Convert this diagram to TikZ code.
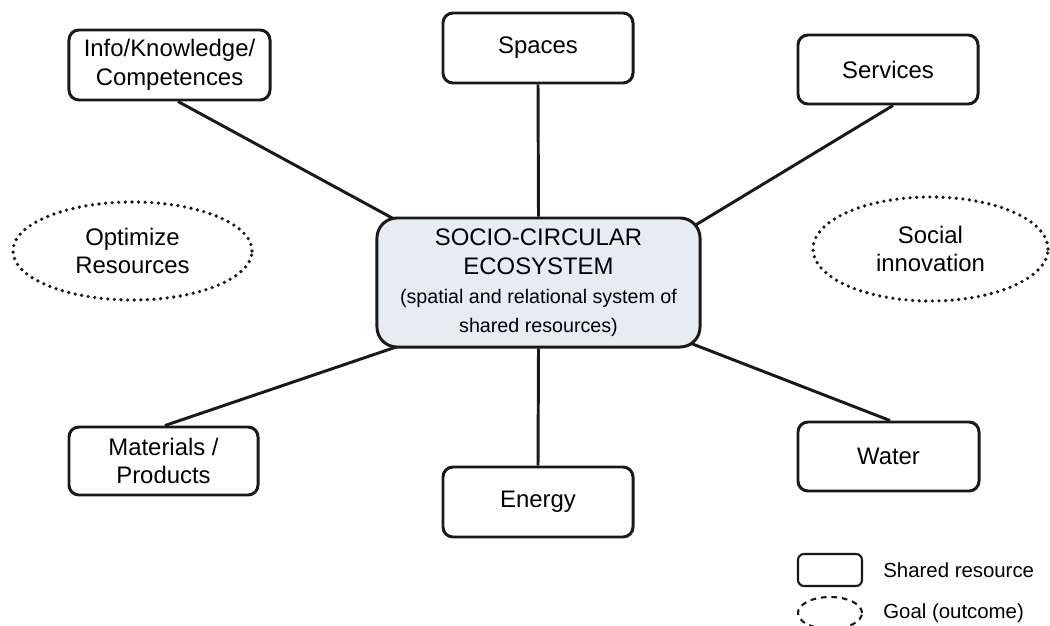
\documentclass[tikz,border=0pt]{standalone}
\usepackage{fontspec}
\setmainfont{Liberation Sans}
\usetikzlibrary{shapes.geometric,calc,positioning,backgrounds}
\definecolor{ecofill}{HTML}{E7EBF2}

\begin{document}
\begin{tikzpicture}[x=0.025cm,y=-0.025cm,
		resource/.style={draw=black!90,line width=2.1pt,rounded corners=0.25cm,fill=white,align=center,inner sep=0pt,font=\fontsize{17}{20.5}\selectfont},
		goal/.style={ellipse,draw=black!90,line width=2.6pt,dash pattern=on 0pt off 4.7pt,line cap=round,align=center,inner sep=0pt,font=\fontsize{17}{19.5}\selectfont},
		link/.style={draw=black!90,line width=2.1pt},
		legendtext/.style={inner sep=0pt,font=\fontsize{14.5}{17}\selectfont}]
		\newcommand{\subFont}{\fontsize{14}{17.7}\selectfont}
		
		\useasboundingbox (0,0) rectangle (1050,625);		% page
		
		% centre
		\node[resource, fill=ecofill, rounded corners=0.5cm, minimum width=8.075cm, minimum height=3.225cm] (eco) at (538.5,282.5)
			{SOCIO-CIRCULAR\\ECOSYSTEM\\\subFont(spatial and relational system of\\\subFont shared resources)};
		
		% shared resources
		\node[resource, minimum width=5.025cm, minimum height=1.75cm] (info) at (169.5,65) {Info/Knowledge/\\Competences};
		\node[resource, minimum width=4.75cm, minimum height=1.75cm] (spaces) at (538,48) {Spaces};
		\node[resource, minimum width=4.5cm, minimum height=1.725cm] (services) at (888,69.5) {Services};
		\node[resource, minimum width=4.725cm, minimum height=1.7cm] (materials) at (163.5,461) {Materials /\\Products};
		\node[resource, minimum width=4.75cm, minimum height=1.75cm] (energy) at (538,502) {Energy};
		\node[resource, minimum width=4.525cm, minimum height=1.725cm] (water) at (888.5,456.5) {Water};
		
		% goals
		\node[goal, minimum width=5.975cm, minimum height=2.45cm] (optimize) at (132.5,251) {Optimize\\Resources};
		\node[goal, minimum width=5.875cm, minimum height=2.6cm] (social) at (930.5,249) {Social\\innovation};
		
		% links
		\begin{pgfonlayer}{background}
			\draw[link] ($(info.south)+(8.5,0)$) -- ($(eco.north west)+(25,6)$);
			\draw[link] (spaces.south) -- (eco.north);
			\draw[link] ($(services.south)+(5,0)$) -- ($(eco.north east)+(-15,14)$);
			\draw[link] ($(materials.north)+(1.5,0)$) -- ($(eco.south west)+(28,-4)$);
			\draw[link] (eco.south) -- (energy.north);
			\draw[link] ($(water.north)+(1.5,0)$) -- ($(eco.south east)+(-18,-8)$);
		\end{pgfonlayer}
		
		% legend
		\node[draw=black!90, line width=1.5pt, rounded corners=0.15cm, minimum width=1.6cm, minimum height=0.8cm] (legbox) at (830,570) {};
		\node[legendtext, right=0.5cm of legbox] (legboxtext) {Shared resource};
		\node[ellipse, draw=black!90, line width=1.5pt, dash pattern=on 4pt off 3.5pt, minimum width=1.6cm, minimum height=0.8cm] (legellipse) at (830,613) {};
		\node[legendtext, right=0.5cm of legellipse] (legellipsetext) {Goal (outcome)};
	\end{tikzpicture}
\end{document}
